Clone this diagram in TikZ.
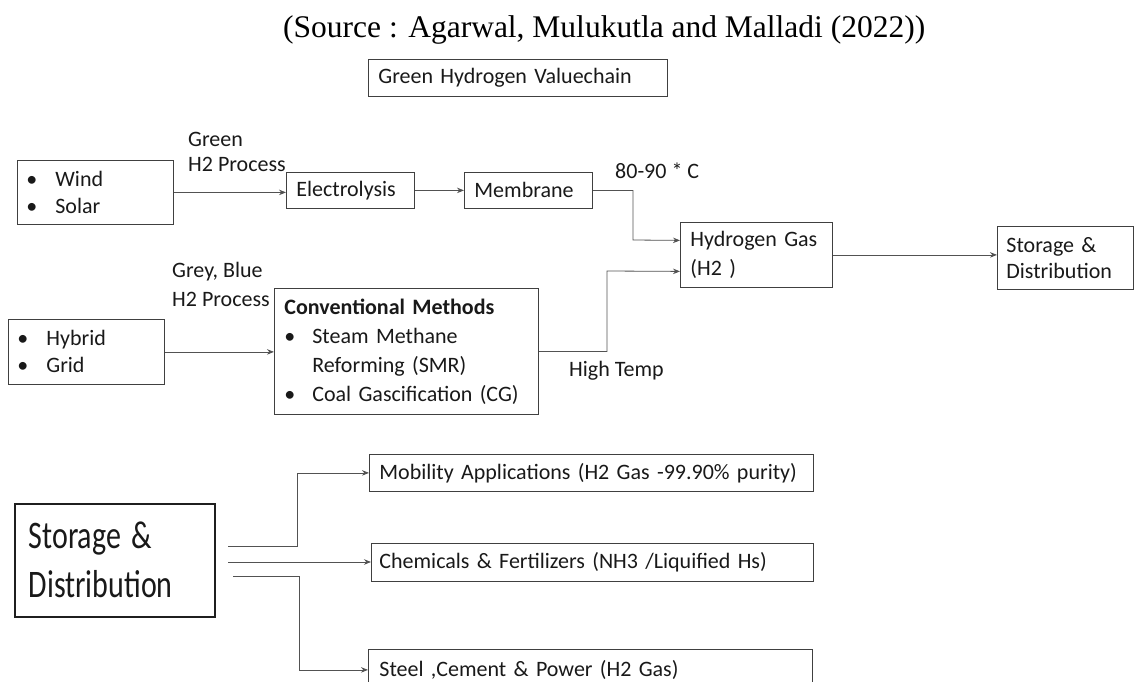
\documentclass[tikz,border=0pt]{standalone}
\usepackage{graphicx}
\usepackage{fontspec}
\setmainfont{Carlito}
\newfontfamily\titlefont{Liberation Serif}
\usetikzlibrary{arrows.meta}
\newcommand\bulw[1]{\makebox[#1][l]{\textbullet}}
\newcommand\tallt[1]{\scalebox{1}[1.3]{#1}}
\begin{document}
\begin{tikzpicture}[x=1pt,y=-1pt,
  box/.style={draw=black!75, line width=0.8pt, anchor=north west, inner xsep=10pt, inner ysep=0pt,
    font=\fontsize{22}{27}\selectfont, align=left, text=black!90},
  lbl/.style={anchor=west, inner sep=0pt, font=\fontsize{22}{27}\selectfont, align=left, text=black!90},
  conn/.style={draw=black!68, line width=0.8pt, -{Stealth[length=7pt,width=5.5pt]}}]
\useasboundingbox (0,0) rectangle (1135,682);
% title
\node[anchor=base west, inner sep=0pt, font=\titlefont\fontsize{31.5}{36}\selectfont] (title) at (283,38)
  {(Source : Agarwal, Mulukutla and Malladi (2022))};
\node[box, text width=279pt, minimum height=37pt] (ghv) at (368,59) {Green Hydrogen Valuechain};
% top flow
\node[box, inner xsep=9pt, text width=138pt, minimum height=64pt] (wind) at (17,160)
  {\bulw{29pt}Wind\\\bulw{29pt}Solar};
\node[box, text width=108pt, minimum height=36pt] (elec) at (286,172) {Electrolysis};
\node[box, text width=108pt, minimum height=36pt] (memb) at (464,172) {Membrane};
\node[box, text width=132pt, minimum height=65pt, font=\fontsize{22}{29}\selectfont] (hyd) at (680,222) {Hydrogen Gas\\(H2 )};
\node[box, inner xsep=9pt, text width=118pt, minimum height=63pt, font=\fontsize{22}{26}\selectfont] (sto) at (997,226) {Storage \&\\Distribution};
\node[box, inner xsep=9pt, text width=138pt, minimum height=65pt] (hyb) at (8,319)
  {\bulw{29pt}Hybrid\\\bulw{29pt}Grid};
\node[box, text width=244pt, minimum height=126pt, font=\fontsize{22}{29}\selectfont] (conv) at (274,288)
  {\textbf{Conventional Methods}\\\bulw{28pt}Steam Methane\\\hspace*{28pt}Reforming (SMR)\\\bulw{28pt}Coal Gascification (CG)};
% labels
\node[lbl, font=\fontsize{22}{25}\selectfont] (lgreen) at (188,151.5) {Green\\H2 Process};
\node[lbl, font=\fontsize{22}{29}\selectfont] (lgrey) at (172,284.5) {Grey, Blue\\H2 Process};
\node[lbl] (ltemp) at (615,171) {80-90 * C};
\node[lbl] (lhigh) at (569,371) {High Temp};
% connectors top
\draw[conn] (wind.east) -- (wind.east -| elec.west);
\draw[conn] (elec.east) -- (elec.east -| memb.west);
\draw[conn] (memb.east) -| (633,240) -- ([yshift=14.5pt]hyd.west);
\draw[conn] (hyb.east) -- (hyb.east -| conv.west);
\draw[conn] (conv.east) -| (607,271) -- ([yshift=-16.5pt]hyd.west);
\draw[conn] (hyd.east) -- (hyd.east -| sto.west);
% bottom
\node[box, draw=black!88, line width=1.5pt, inner xsep=14pt, text width=172pt, minimum height=113pt,
  font=\fontsize{30}{49}\selectfont] (big) at (14,503) {\tallt{Storage \&}\\\tallt{Distribution}};
\node[box, text width=424pt, minimum height=37pt] (mob) at (369,454) {Mobility Applications (H2 Gas -99.90\% purity)};
\node[box, inner xsep=8pt, text width=426pt, minimum height=38pt] (chem) at (371,543) {Chemicals \& Fertilizers (NH3 /Liquified Hs)};
\node[box, inner xsep=11pt, text width=422pt, minimum height=41pt] (steel) at (368,649) {Steel ,Cement \& Power (H2 Gas)};
\coordinate (o1) at (228,546);
\coordinate (o2) at (228,562);
\coordinate (o3) at (233,576);
\draw[conn] (o1) -- (297,546) |- (mob.west);
\draw[conn] (o2) -- (o2 -| chem.west);
\draw[conn] (o3) -- (299,576) |- (steel.west);
\end{tikzpicture}
\end{document}
